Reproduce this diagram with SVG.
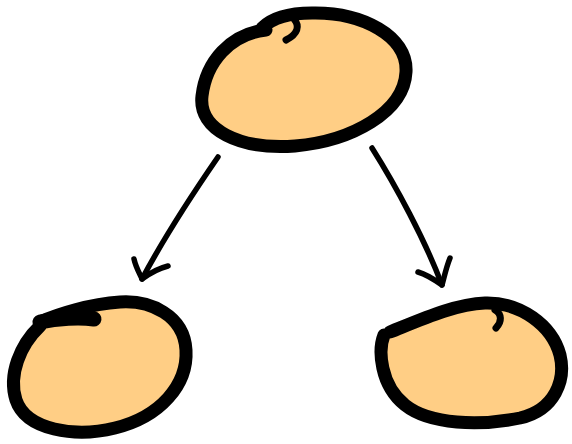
<svg xmlns="http://www.w3.org/2000/svg" width="572" height="444" viewBox="0 0 572 444">
  <style>
    .blob { fill: #ffce85; stroke: #000; stroke-width: 13; stroke-linecap: round; stroke-linejoin: round; }
    .ink { fill: none; stroke: #000; stroke-linecap: round; stroke-linejoin: round; }
    .edge { fill: none; stroke: #000; stroke-width: 5.5; stroke-linecap: round; stroke-linejoin: round; }
  </style>
  <rect width="572" height="444" fill="#fff"/>

  <g id="node-top">
    <path class="blob" d="M 266 30 C 230 34, 206 62, 202 96 C 198 130, 240 150, 295 146 C 352 141, 404 112, 406 72 C 408 36, 362 12, 312 13 C 290 13, 272 18, 262 28"/>
    <path class="ink" stroke-width="7" d="M 294 19 C 300 26, 298 34, 286 40"/>
  </g>

  <g id="node-left">
    <path class="blob" d="M 40 326 C 20 345, 8 375, 16 400 C 26 430, 75 438, 115 428 C 160 417, 188 385, 186 350 C 184 315, 150 300, 120 302 C 90 304, 58 314, 40 322"/>
    <path class="ink" stroke-width="15" d="M 40 322 C 58 318, 80 317, 94 319"/>
  </g>

  <g id="node-right">
    <path class="blob" d="M 384 335 C 378 350, 380 385, 405 405 C 430 425, 480 426, 520 418 C 555 410, 566 380, 560 355 C 552 325, 520 302, 485 303 C 455 304, 420 320, 390 332"/>
    <path class="ink" stroke-width="7" d="M 495 310 C 502 314, 502 322, 496 328"/>
  </g>

  <g id="connectors">
    <path class="edge" d="M 218 157 C 198 186, 166 234, 142 279"/>
    <path class="edge" d="M 134 259 C 136 268, 140 274, 142 279 C 150 273, 160 268, 168 266"/>
    <path class="edge" d="M 372 148 C 396 186, 425 240, 442 285"/>
    <path class="edge" d="M 450 258 C 446 268, 444 278, 442 285 C 435 280, 425 274, 418 272"/>
  </g>
</svg>
